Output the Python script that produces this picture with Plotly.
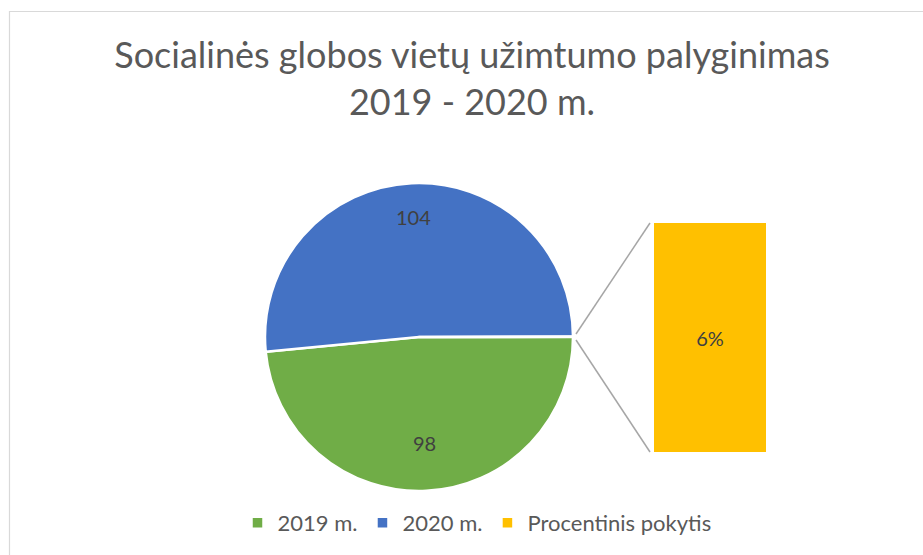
import math
import plotly.graph_objects as go

# ---- data ----
labels = ["2019 m.", "2020 m.", "Procentinis pokytis"]
values = [98, 104]
pct_change = [0.06]
colors = ["#70AD47", "#4472C4", "#FFC000"]

W, H = 923, 555
def px_x(p): return p / W
def px_y(p): return 1 - p / H

FONT = "Lato, Open Sans, sans-serif"

# pie geometry (pixels)
cx, cy, r = 419, 337, 154
# bar geometry (pixels)
bx0, bx1, by0, by1 = 654, 766, 223, 452

pie_values = values + pct_change
total = sum(pie_values)
rotation = 90 - pct_change[0] / total * 180  # start angle, clockwise from 12 o'clock

fig = go.Figure()
fig.add_trace(go.Pie(
    labels=labels,
    values=pie_values,
    sort=False,
    direction="clockwise",
    rotation=rotation,
    marker=dict(colors=colors, line=dict(color="white", width=2.5)),
    textinfo="none",
    domain=dict(x=[px_x(cx - r), px_x(cx + r)], y=[px_y(cy + r), px_y(cy - r)]),
    hoverinfo="label+value",
    showlegend=True,
))

# data labels of the pie slices, placed at each slice's mid angle
annotations = []
cum = 0.0
for v in values:
    mid = rotation + (cum + v / 2) / total * 360  # clockwise from 12 o'clock
    cum += v
    ang = math.radians(mid)
    lx = cx + 0.78 * r * math.sin(ang)
    ly = cy - 0.78 * r * math.cos(ang)
    annotations.append(dict(
        x=px_x(lx), y=px_y(ly), xref="paper", yref="paper",
        text=str(v), showarrow=False,
        font=dict(family=FONT, size=20, color="#404040"),
    ))

fig.add_trace(go.Bar(
    x=[0], y=pct_change,
    width=1,
    marker=dict(color=colors[2], line=dict(width=0)),
    text=[f"{v*100:.0f}%" for v in pct_change],
    textposition="inside",
    insidetextanchor="middle",
    textfont=dict(family=FONT, size=20, color="#404040"),
    xaxis="x2", yaxis="y2",
    showlegend=False,
    hoverinfo="skip",
))

# connector lines from pie edge to bar corners
line_style = dict(color="#A6A6A6", width=1.5)
shapes = [
    dict(type="line", xref="paper", yref="paper",
         x0=px_x(cx + r + 3), y0=px_y(cy - 3), x1=px_x(bx0 - 4), y1=px_y(by0),
         line=line_style),
    dict(type="line", xref="paper", yref="paper",
         x0=px_x(cx + r + 3), y0=px_y(cy + 3), x1=px_x(bx0 - 4), y1=px_y(by1),
         line=line_style),
    # chart border (partially visible)
    dict(type="rect", xref="paper", yref="paper",
         x0=px_x(9.5), y0=px_y(600), x1=px_x(1000), y1=px_y(11.5),
         line=dict(color="#D9D9D9", width=1.2), fillcolor="rgba(0,0,0,0)"),
]

fig.update_layout(
    width=W, height=H,
    margin=dict(l=0, r=0, t=0, b=0),
    paper_bgcolor="white", plot_bgcolor="white",
    title=dict(
        text="Socialinės globos vietų užimtumo palyginimas<br>2019 - 2020 m.",
        x=472 / W, xanchor="center",
        y=1 - 68 / H, yanchor="middle",
        font=dict(family=FONT, size=36, color="#595959"),
    ),
    xaxis2=dict(domain=[px_x(bx0), px_x(bx1)], range=[-0.5, 0.5],
                visible=False, fixedrange=True),
    yaxis2=dict(domain=[px_y(by1), px_y(by0)], range=[0, pct_change[0]],
                visible=False, fixedrange=True),
    legend=dict(
        orientation="h", x=477 / W, xanchor="center",
        y=px_y(523), yanchor="middle",
        font=dict(family=FONT, size=22, color="#595959"),
        itemwidth=30,
    ),
    annotations=annotations,
    shapes=shapes,
    bargap=0,
)

fig.write_html("out.html", config={"displayModeBar": False})

# remove the default page margin so the figure sits at the window origin
with open("out.html", encoding="utf-8") as f:
    html = f.read()
html = html.replace("<head>", "<head><style>html,body{margin:0;padding:0;overflow:hidden;}</style>", 1)
with open("out.html", "w", encoding="utf-8") as f:
    f.write(html)
